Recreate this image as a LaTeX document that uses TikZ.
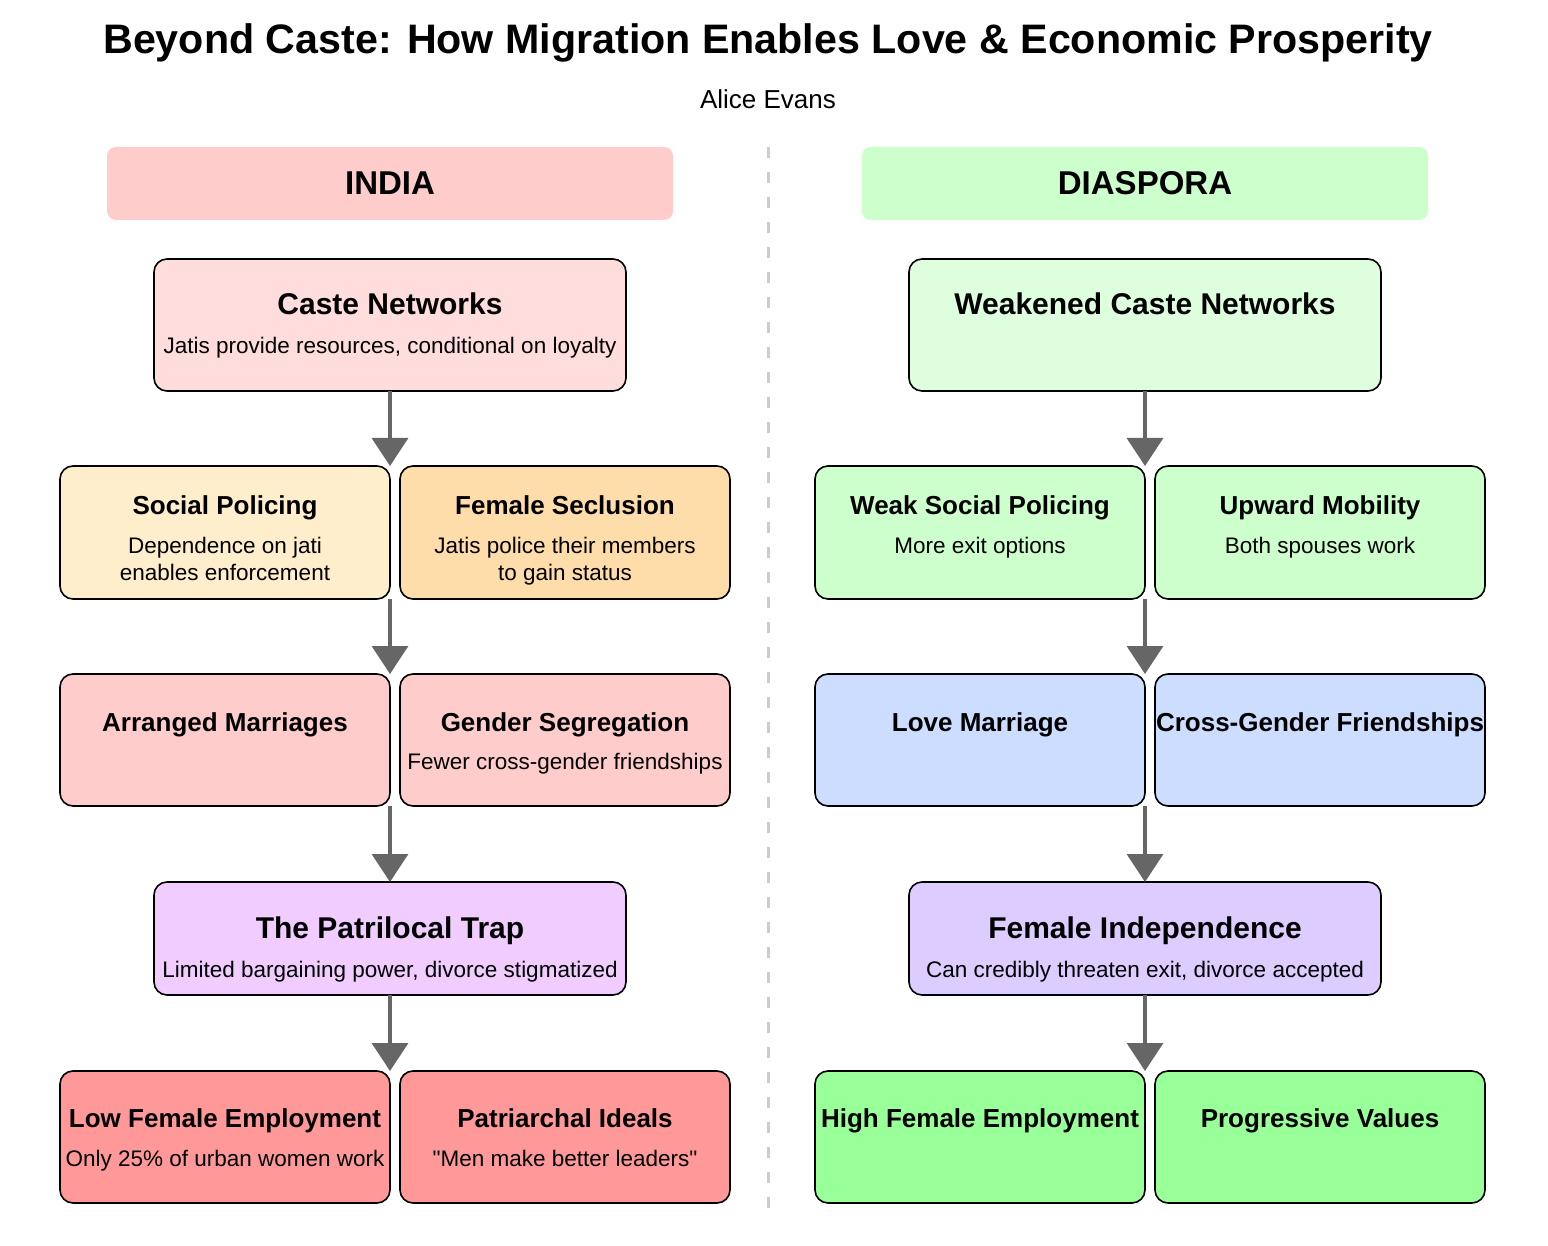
\documentclass[tikz,border=0pt]{standalone}
\usepackage{fontspec}
\setmainfont{Liberation Sans}[Ligatures=TeXOff]
\usetikzlibrary{arrows.meta}
\definecolor{cnfill}{HTML}{FFDDDD}
\definecolor{spfill}{HTML}{FFEECC}
\definecolor{fsfill}{HTML}{FFDDAA}
\definecolor{amfill}{HTML}{FFCCCC}
\definecolor{ptfill}{HTML}{F0CCFF}
\definecolor{lofill}{HTML}{FF9999}
\definecolor{wcfill}{HTML}{DDFFDD}
\definecolor{wsfill}{HTML}{CCFFCC}
\definecolor{lmfill}{HTML}{CCDDFF}
\definecolor{fifill}{HTML}{DDCCFF}
\definecolor{hifill}{HTML}{99FF99}
\definecolor{arrgray}{HTML}{666666}
\definecolor{divgray}{HTML}{CCCCCC}
\tikzset{
  box/.style={draw=black, line width=1.6pt, rounded corners=13pt, inner sep=0pt, outer sep=0pt},
  bigbox/.style={box, minimum width=472pt, minimum height=132pt},
  smallbox/.style={box, minimum width=330pt, minimum height=132pt},
  hdrbox/.style={rounded corners=9pt, minimum width=566pt, minimum height=73pt, inner sep=0pt, font=\fontsize{33}{40}\selectfont\bfseries},
  bigtitle/.style={font=\fontsize{30}{36}\selectfont\bfseries, inner sep=0pt, text height=0.72em, text depth=0.2em, yshift=-7pt},
  smalltitle/.style={font=\fontsize{26}{31}\selectfont\bfseries, inner sep=0pt, text height=0.72em, text depth=0.2em, yshift=-7pt},
  subtxt/.style={font=\fontsize{22.5}{27}\selectfont, inner sep=0pt, text height=0.72em, text depth=0.2em, yshift=-6pt},
  arr/.style={draw=arrgray, line width=3.3pt, -{Triangle[width=36pt,length=28pt]}},
}
\begin{document}
\begin{tikzpicture}[x=1pt,y=-1pt]
\useasboundingbox (0,0) rectangle (1548,1246);
% title
\node[font=\fontsize{41.2}{48}\selectfont\bfseries, inner sep=0pt] (title) at (768,43) {Beyond Caste: How Migration Enables Love \& Economic Prosperity};
\node[font=\fontsize{26}{31}\selectfont, inner sep=0pt] (author) at (768,99) {Alice Evans};
% divider
\coordinate (divtop) at (768,147);
\coordinate (divbot) at (768,1212);
\draw[divgray, line width=3pt, dash pattern=on 11pt off 14pt] (divtop) -- (divbot);
% headers
\node[hdrbox, fill=amfill] (hindia) at (390,183.5) {INDIA};
\node[hdrbox, fill=wsfill] (hdias) at (1145,183.5) {DIASPORA};

% ===== INDIA =====
\node[bigbox, fill=cnfill] (cn) at (390,325) {};
\node[bigtitle] (cnt) at (390,305) {Caste Networks};
\node[subtxt] (cns) at (390,345) {Jatis provide resources, conditional on loyalty};

\node[smallbox, fill=spfill, minimum height=133pt] (sp) at (225,532.5) {};
\node[smalltitle] (spt) at (225,505) {Social Policing};
\node[subtxt] (sps1) at (225,545) {Dependence on jati};
\node[subtxt] (sps2) at (225,572) {enables enforcement};

\node[smallbox, fill=fsfill, minimum height=133pt] (fs) at (565,532.5) {};
\node[smalltitle] (fst) at (565,505) {Female Seclusion};
\node[subtxt] (fss1) at (565,545) {Jatis police their members};
\node[subtxt] (fss2) at (565,572) {to gain status};

\node[smallbox, fill=amfill] (am) at (225,740) {};
\node[smalltitle] (amt) at (225,722) {Arranged Marriages};

\node[smallbox, fill=amfill] (gs) at (565,740) {};
\node[smalltitle] (gst) at (565,722) {Gender Segregation};
\node[subtxt] (gss) at (565,761) {Fewer cross-gender friendships};

\node[bigbox, fill=ptfill, minimum height=113pt] (pt) at (390,938.5) {};
\node[bigtitle] (ptt) at (390,929) {The Patrilocal Trap};
\node[subtxt] (pts) at (390,969) {Limited bargaining power, divorce stigmatized};

\node[smallbox, fill=lofill] (lfe) at (225,1137) {};
\node[smalltitle] (lfet) at (225,1118) {Low Female Employment};
\node[subtxt] (lfes) at (225,1158) {Only 25\% of urban women work};

\node[smallbox, fill=lofill] (pi) at (565,1137) {};
\node[smalltitle] (pit) at (565,1118) {Patriarchal Ideals};
\node[subtxt] (pis) at (565,1158) {"Men make better leaders"};

\draw[arr] (cn.south) -- (cn.south |- sp.north);
\draw[arr] (sp.south east) -- (sp.south east |- am.north);
\draw[arr] (am.south east) -- (am.south east |- pt.north);
\draw[arr] (pt.south) -- (pt.south |- lfe.north);

% ===== DIASPORA =====
\node[bigbox, fill=wcfill] (wc) at (1145,325) {};
\node[bigtitle] (wct) at (1145,305) {Weakened Caste Networks};

\node[smallbox, fill=wsfill, minimum height=133pt] (ws) at (980,532.5) {};
\node[smalltitle] (wst) at (980,505) {Weak Social Policing};
\node[subtxt] (wss) at (980,545) {More exit options};

\node[smallbox, fill=wsfill, minimum height=133pt] (um) at (1320,532.5) {};
\node[smalltitle] (umt) at (1320,505) {Upward Mobility};
\node[subtxt] (ums) at (1320,545) {Both spouses work};

\node[smallbox, fill=lmfill] (lm) at (980,740) {};
\node[smalltitle] (lmt) at (980,722) {Love Marriage};

\node[smallbox, fill=lmfill] (cg) at (1320,740) {};
\node[smalltitle] (cgt) at (1320,722) {Cross-Gender Friendships};

\node[bigbox, fill=fifill, minimum height=113pt] (fi) at (1145,938.5) {};
\node[bigtitle] (fit) at (1145,929) {Female Independence};
\node[subtxt] (fis) at (1145,969) {Can credibly threaten exit, divorce accepted};

\node[smallbox, fill=hifill] (hfe) at (980,1137) {};
\node[smalltitle] (hfet) at (980,1118) {High Female Employment};

\node[smallbox, fill=hifill] (pv) at (1320,1137) {};
\node[smalltitle] (pvt) at (1320,1118) {Progressive Values};

\draw[arr] (wc.south) -- (wc.south |- ws.north);
\draw[arr] (ws.south east) -- (ws.south east |- lm.north);
\draw[arr] (lm.south east) -- (lm.south east |- fi.north);
\draw[arr] (fi.south) -- (fi.south |- hfe.north);
\end{tikzpicture}
\end{document}
